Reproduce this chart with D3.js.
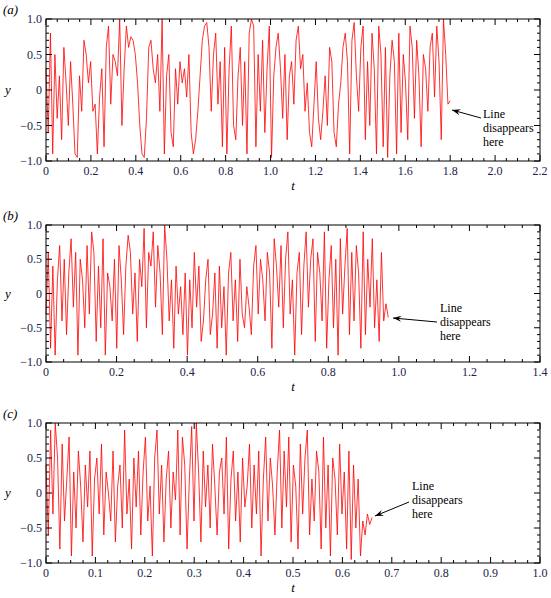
<!DOCTYPE html>
<html><head><meta charset="utf-8">
<script src="https://cdn.jsdelivr.net/npm/d3@7"></script>
<style>body{margin:0;background:#fff}text{font-family:"Liberation Serif","Times New Roman",serif}</style>
</head><body><svg id="c" width="551" height="598"></svg>
<script>
const panelLabels = ["(a)", "(b)", "(c)"];
const xMax = [2.2, 1.4, 1.0];
const xStep = [0.2, 0.2, 0.1];
const tEnd = [1.8, 0.97, 0.66];
const yTicks = [-1.0, -0.5, 0, 0.5, 1.0];
const seriesA = [0.3,-0.6,0.8,-0.9,0.5,-0.4,0.2,-0.7,0.6,0.1,-0.5,0.4,-0.2,-0.9,-0.95,0.2,-0.3,0.7,0.5,0.1,0.4,-0.3,-0.2,-0.9,-0.1,0.3,-0.8,0.6,0.9,-0.2,0.5,0.4,0.2,1.0,-0.5,0.3,0.9,0.6,0.75,0.7,0.5,0.1,-0.5,-0.9,-0.95,-0.4,0.6,0.7,0.3,0.1,0.5,-0.3,1.0,-0.9,0.2,0.5,-0.6,-0.8,0.3,-0.2,0.4,0.1,0.3,-0.1,0.5,-0.6,-0.9,-0.7,-0.3,0.2,0.7,0.9,0.95,0.6,-0.3,0.5,0.8,-0.2,0.4,-0.8,0.6,-0.9,0.3,0.9,-0.5,-0.7,0.2,0.6,-0.5,0.4,-0.9,0.8,1.0,0.9,-0.8,0.5,-0.3,0.7,-0.6,0.3,0.9,-0.95,0.2,0.6,0.8,0.3,-0.4,0.5,-0.7,0.2,0.4,-0.2,0.7,0.9,0.3,0.5,-0.3,0.1,-0.6,-0.8,-0.2,0.4,-0.4,-0.7,-0.3,0.2,-0.5,0.6,0.4,-0.6,-0.8,-0.2,0.1,0.6,0.8,0.4,-0.9,0.7,0.95,0.2,-0.3,0.6,0.9,-0.7,0.4,-0.5,0.8,0.3,-0.9,0.9,0.5,-0.8,0.6,-0.95,0.2,0.7,0.4,-0.9,0.8,-0.6,0.5,0.1,-0.7,0.9,0.6,-0.4,0.7,0.2,-0.8,0.5,0.3,-0.3,0.6,0.8,-0.1,0.9,0.4,-0.7,1.0,0.5,-0.2,-0.15];
const seriesB = [-0.3,0.6,-0.8,0.4,-0.9,0.2,0.7,-0.4,0.5,-0.6,0.3,0.8,-0.2,0.6,-0.9,0.5,0.2,-0.5,0.7,-0.3,0.9,0.6,-0.7,0.4,-0.5,0.8,-0.9,0.3,0.1,-0.4,0.5,-0.8,0.7,0.2,-0.6,0.4,0.85,0.6,-0.3,0.3,-0.7,0.5,0.1,0.95,-0.5,0.6,0.4,0.9,-0.2,0.7,0.3,-0.6,1.0,0.5,-0.4,0.2,-0.8,0.4,-0.3,0.1,-0.6,0.3,-0.9,0.2,-0.5,0.6,-0.2,0.4,-0.7,-0.4,0.2,0.5,-0.6,-0.3,0.3,-0.8,0.4,-0.5,0.1,-0.9,0.3,0.6,-0.4,0.2,-0.7,0.5,-0.3,-0.5,0.1,-0.2,-0.6,0.4,0.7,-0.3,0.5,0.2,-0.4,0.6,0.3,-0.8,0.8,0.4,-0.2,0.7,-0.5,0.5,0.9,-0.3,0.2,-0.9,0.3,0.6,-0.6,0.4,0.9,-0.2,0.5,0.8,-0.7,0.6,0.3,-0.4,0.9,-0.8,0.2,0.7,-0.5,0.5,-0.9,0.8,-0.3,0.4,0.95,-0.6,0.6,-0.4,0.7,0.3,-0.8,0.9,-0.6,0.5,-0.2,0.8,-0.5,0.2,-0.7,0.6,-0.4,-0.15,-0.35];
const seriesC = [0.4,-0.6,0.9,-0.3,1.0,0.5,-0.8,0.7,-0.4,0.2,0.8,-0.9,0.3,-0.5,0.6,0.1,-0.7,0.4,-0.2,0.6,-0.9,0.2,0.5,-0.3,0.7,-0.6,0.3,0.0,-0.4,0.6,-0.7,0.1,0.4,-0.5,0.9,-0.3,0.2,-0.8,0.5,-0.2,0.6,-0.6,0.3,0.8,-0.4,0.1,-0.9,0.5,0.9,-0.3,0.4,-0.7,0.2,0.6,-0.5,0.3,-0.1,0.9,-0.6,0.8,0.4,-0.8,0.2,0.95,-0.4,1.0,0.3,-0.7,0.6,-0.2,0.4,-0.5,0.7,0.1,-0.6,0.3,0.5,-0.3,0.8,-0.8,0.2,0.6,-0.4,0.3,-0.7,0.5,-0.2,0.1,0.7,-0.5,0.4,-0.3,0.6,-0.9,0.2,0.8,-0.4,0.5,0.1,-0.6,0.3,0.9,-0.5,0.6,-0.2,0.8,-0.7,0.4,0.1,-0.8,0.7,-0.3,0.5,0.9,-0.6,0.2,-0.4,0.6,0.3,-0.8,0.8,-0.5,0.4,-0.9,0.5,0.2,-0.6,0.7,-0.3,0.3,-0.8,0.6,-0.95,0.4,-0.5,0.2,-0.9,-0.4,-0.6,-0.3,-0.45,-0.35];
const series = [seriesA, seriesB, seriesC];
const frames = [[19,161],[225,362],[423,563]];
const notes = [{x:483,y:118,ax:[481,118,452,110]},{x:440,y:312,ax:[437,322,393,318]},{x:412,y:490,ax:[409,502,375,516]}];
const L=46,R=540;
const svg=d3.select("#c");
const tc="#1c2348";
series.forEach((vals,k)=>{
  const [T,B]=frames[k];
  const x=d3.scaleLinear().domain([0,xMax[k]]).range([L,R]);
  const y=d3.scaleLinear().domain([-1,1]).range([B,T]);
  const g=svg.append("g");
  const n=vals.length;
  const line=d3.line().x((d,i)=>x(i*tEnd[k]/(n-1))).y(d=>y(d));
  g.append("path").attr("d",line(vals)).attr("fill","none").attr("stroke","#f00").attr("stroke-width",0.8);
  g.append("rect").attr("x",L).attr("y",T).attr("width",R-L).attr("height",B-T).attr("fill","none").attr("stroke","#000").attr("stroke-width",1);
  const xt=d3.range(0,xMax[k]+1e-9,xStep[k]);
  const xm=d3.range(0,xMax[k]+1e-9,xStep[k]/4);
  xm.forEach(v=>{const L2=xt.some(t=>Math.abs(t-v)<1e-9)?6:3;
    g.append("line").attr("x1",x(v)).attr("x2",x(v)).attr("y1",B).attr("y2",B-L2).attr("stroke","#000");
    g.append("line").attr("x1",x(v)).attr("x2",x(v)).attr("y1",T).attr("y2",T+L2).attr("stroke","#000");});
  d3.range(-1,1.0001,0.1).forEach(v=>{const maj=yTicks.some(t=>Math.abs(t-v)<1e-9);const L2=maj?6:3;
    g.append("line").attr("y1",y(v)).attr("y2",y(v)).attr("x1",L).attr("x2",L+L2).attr("stroke","#000");
    g.append("line").attr("y1",y(v)).attr("y2",y(v)).attr("x1",R).attr("x2",R-L2).attr("stroke","#000");});
  xt.forEach(v=>g.append("text").attr("x",x(v)).attr("y",B+14).attr("text-anchor","middle").attr("font-size",12).attr("fill",tc).text(d3.format(".1f")(v).replace(/^0\.0$/,"0")));
  yTicks.forEach(v=>g.append("text").attr("x",L-4).attr("y",y(v)+4).attr("text-anchor","end").attr("font-size",12).attr("fill",tc).text(v==0?"0":d3.format(".1f")(v).replace("-","\u2212")));
  g.append("text").attr("x",(L+R)/2).attr("y",B+29).attr("text-anchor","middle").attr("font-size",13).attr("font-style","italic").text("t");
  g.append("text").attr("x",8).attr("y",(T+B)/2+4).attr("text-anchor","middle").attr("font-size",13).attr("font-style","italic").text("y");
  g.append("text").attr("x",3).attr("y",T-5).attr("font-size",13).attr("font-style","italic").text(panelLabels[k]);
  const nt=notes[k];
  ["Line","disappears","here"].forEach((s,j)=>g.append("text").attr("x",nt.x).attr("y",nt.y+j*14).attr("font-size",12).text(s));
  const [x1,y1,x2,y2]=nt.ax;
  g.append("line").attr("x1",x1).attr("y1",y1).attr("x2",x2).attr("y2",y2).attr("stroke","#000").attr("stroke-width",1);
  const a=Math.atan2(y1-y2,x1-x2),h=9,w=0.35;
  g.append("path").attr("d",`M${x2},${y2}L${x2+h*Math.cos(a+w)},${y2+h*Math.sin(a+w)}L${x2+h*0.6*Math.cos(a)},${y2+h*0.6*Math.sin(a)}L${x2+h*Math.cos(a-w)},${y2+h*Math.sin(a-w)}Z`).attr("fill","#000");
});
</script></body></html>
